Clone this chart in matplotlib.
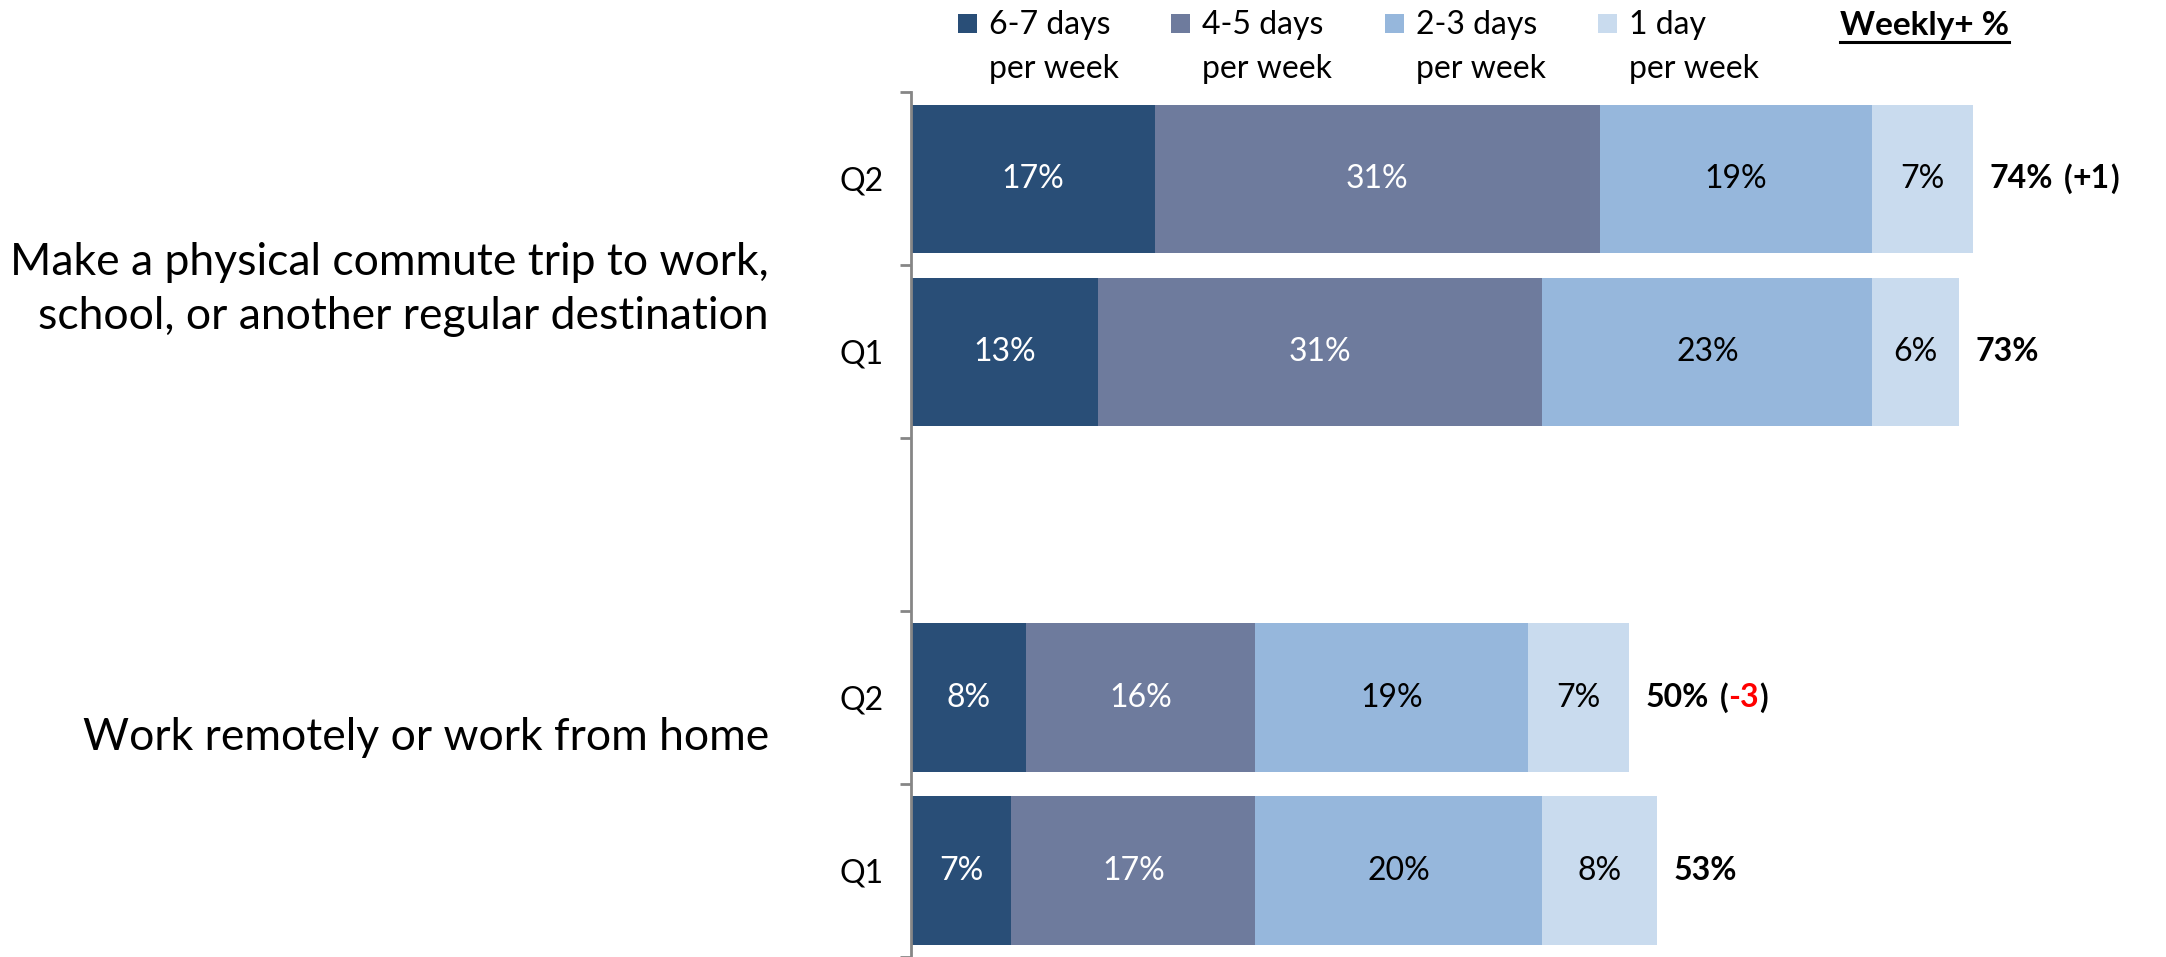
import matplotlib
matplotlib.use("Agg")
import matplotlib.pyplot as plt
from matplotlib.patches import Rectangle
from matplotlib.lines import Line2D
from matplotlib.transforms import blended_transform_factory

plt.rcParams['font.family'] = ['Lato', 'DejaVu Sans']

# survey data
groups = ["Make a physical commute trip to work,\nschool, or another regular destination",
          "Work remotely or work from home"]
waves = ["Q2", "Q1"]
freq_labels = ["6-7 days\nper week", "4-5 days\nper week", "2-3 days\nper week", "1 day\nper week"]
commute_q2 = [17, 31, 19, 7]
commute_q1 = [13, 31, 23, 6]
remote_q2 = [8, 16, 19, 7]
remote_q1 = [7, 17, 20, 8]
weekly_plus = [74, 73, 50, 53]
weekly_change = ["+1", None, "-3", None]

colors = ["#294e77", "#6e7b9d", "#96b7dc", "#c9dbee"]
text_colors = ["white", "white", "black", "black"]

W, H = 2166, 957
fig = plt.figure(figsize=(W / 100, H / 100), dpi=100)
ax = fig.add_axes([911 / W, 0, 1 - 911 / W, 1 - 92.5 / H])

# rows top to bottom, with an empty slot between the two groups
rows = [commute_q2, commute_q1, None, remote_q2, remote_q1]
row_y = [0, 1, 3, 4]
row_labels = waves + waves
bar_h = 0.86

i = 0
for y, vals in enumerate(rows):
    if vals is None:
        continue
    left = 0
    for k, v in enumerate(vals):
        ax.barh(y, v, left=left, height=bar_h, color=colors[k], linewidth=0)
        ax.text(left + v / 2, y, f"{v}%", ha="center", va="center",
                fontsize=23, color=text_colors[k])
        left += v
    t = ax.annotate(f"{weekly_plus[i]}%", xy=(left, y), xytext=(12, 0),
                    textcoords="offset points", ha="left", va="center",
                    fontsize=23, fontweight="bold")
    if weekly_change[i] is not None:
        ch_color = "red" if weekly_change[i].startswith("-") else "black"
        prev = ax.annotate("(", xy=(1, 0.5), xycoords=t, xytext=(8, 0),
                           textcoords="offset points", ha="left", va="center",
                           fontsize=23, fontweight="bold")
        for s, c in [(weekly_change[i], ch_color), (")", "black")]:
            prev = ax.annotate(s, xy=(1, 0.5), xycoords=prev, ha="left", va="center",
                               fontsize=23, fontweight="bold", color=c)
    i += 1

ax.set_xlim(0, (W - 911) / 14.35)
ax.set_ylim(4.5, -0.5)
ax.set_xticks([])
ax.set_yticks(row_y)
ax.set_yticklabels(row_labels, fontsize=23)
ax.set_yticks([-0.5, 0.5, 1.5, 2.5, 3.5, 4.5], minor=True)
ax.tick_params(axis="y", which="major", length=0, pad=20)
ax.tick_params(axis="y", which="minor", length=8, width=2, color="#868686")
for s in ["top", "right", "bottom"]:
    ax.spines[s].set_visible(False)
ax.spines["left"].set_color("#868686")
ax.spines["left"].set_linewidth(2)

# group labels
trans = blended_transform_factory(fig.transFigure, ax.transData)
ax.text(769 / W, 0.64, groups[0], transform=trans, ha="right", va="center",
        fontsize=32, linespacing=1.4)
ax.text(769 / W, 3.23, groups[1], transform=trans, ha="right", va="center",
        fontsize=32)

# legend across the top
for k, lab in enumerate(freq_labels):
    x0 = (958 + k * 213.3) / W
    fig.add_artist(Rectangle((x0, 1 - 33 / H), 19 / W, 19 / H, transform=fig.transFigure,
                             facecolor=colors[k], linewidth=0))
    line1, line2 = lab.split("\n")
    fig.text(x0 + 31 / W, 1 - 25 / H, line1, ha="left", va="center", fontsize=23)
    fig.text(x0 + 31 / W, 1 - 69 / H, line2, ha="left", va="center", fontsize=23)

wt = fig.text(1840 / W, 1 - 25 / H, "Weekly+ %", ha="left", va="center",
              fontsize=24, fontweight="bold")
fig.canvas.draw()
bb = wt.get_window_extent().transformed(fig.transFigure.inverted())
fig.add_artist(Line2D([bb.x0, bb.x1], [1 - 42 / H] * 2, transform=fig.transFigure,
                      color="black", linewidth=2.2))

fig.savefig("out.png", dpi=100)
